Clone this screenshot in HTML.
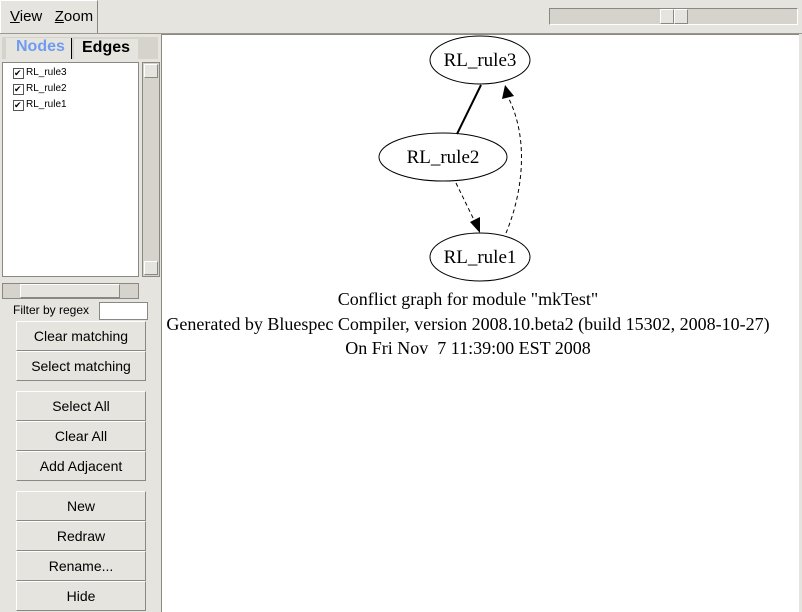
<!DOCTYPE html><html><head><style>
body{margin:0;width:802px;height:612px;background:#e6e4df;position:relative;overflow:hidden;font-family:"Liberation Sans",sans-serif;}
.a{position:absolute;box-sizing:border-box}
.btn{position:absolute;left:16px;width:130px;height:30px;box-sizing:border-box;border:1px solid;border-color:#fff #8a8883 #8a8883 #fff;background:#e6e4df;font-size:14px;text-align:center;line-height:28px;color:#000}
</style></head><body>
<div class="a" style="left:0;top:0;width:98px;height:34px;border:1px solid;border-color:#fff #8a8883 #8a8883 #fff;font-size:15px;line-height:32px;padding-left:9px"><u>V</u>iew&nbsp;&nbsp;&nbsp;<u>Z</u>oom</div>
<div class="a" style="left:0;top:33px;width:802px;height:1px;background:#9a988f"></div>
<div class="a" style="left:549px;top:8px;width:249px;height:17px;background:#d6d3cc;border:1px solid;border-color:#8a8883 #fff #fff #8a8883"></div>
<div class="a" style="left:660px;top:9px;width:14px;height:15px;border:1px solid;border-color:#fff #8a8883 #8a8883 #fff;background:#e6e4df"></div>
<div class="a" style="left:674px;top:9px;width:14px;height:15px;border:1px solid;border-color:#fff #8a8883 #8a8883 #fff;background:#e6e4df"></div>
<div class="a" style="left:161px;top:34px;width:638px;height:578px;background:#fff;border-left:1px solid #8a8883;border-top:1px solid #8a8883"></div>
<div class="a" style="left:2px;top:37px;width:156px;height:22px;background:#d6d3cc"></div>
<div class="a" style="left:6px;top:38px;width:66px;height:21px;background:#e6e4df;border-right:1px solid #000;color:#6f9cf0;font-weight:bold;font-size:16px;padding-left:10px;line-height:18px">Nodes</div>
<div class="a" style="left:74px;top:39px;width:64px;height:20px;background:#e6e4df;font-weight:bold;font-size:16px;padding-left:8px;line-height:18px">Edges</div>
<div class="a" style="left:2px;top:62px;width:137px;height:215px;background:#fff;border:1px solid #8a8883;font-size:10px;line-height:16px;padding:2px 0 0 10px">
<div><span style="display:inline-block;width:9px;height:9px;border:1px solid #555;vertical-align:-1px;font-size:9px;line-height:9px;margin-right:2px">✔</span>RL_rule3</div>
<div><span style="display:inline-block;width:9px;height:9px;border:1px solid #555;vertical-align:-1px;font-size:9px;line-height:9px;margin-right:2px">✔</span>RL_rule2</div>
<div><span style="display:inline-block;width:9px;height:9px;border:1px solid #555;vertical-align:-1px;font-size:9px;line-height:9px;margin-right:2px">✔</span>RL_rule1</div></div>
<div class="a" style="left:142px;top:62px;width:18px;height:215px;background:#d6d3cc;border:1px solid #8a8883"></div>
<div class="a" style="left:144px;top:64px;width:14px;height:14px;border:1px solid;border-color:#fff #8a8883 #8a8883 #fff;background:#e6e4df"></div>
<div class="a" style="left:144px;top:261px;width:14px;height:14px;border:1px solid;border-color:#fff #8a8883 #8a8883 #fff;background:#e6e4df"></div>
<div class="a" style="left:2px;top:283px;width:137px;height:16px;background:#d6d3cc;border:1px solid #8a8883"></div>
<div class="a" style="left:20px;top:284px;width:100px;height:14px;border:1px solid;border-color:#fff #8a8883 #8a8883 #fff;background:#e6e4df"></div>
<div class="a" style="left:13px;top:303px;font-size:12px">Filter by regex</div>
<div class="a" style="left:99px;top:302px;width:49px;height:18px;background:#fff;border:1px solid #8a8883"></div>
<div class="btn" style="top:321px">Clear matching</div>
<div class="btn" style="top:351px">Select matching</div>
<div class="btn" style="top:391px">Select All</div>
<div class="btn" style="top:421px">Clear All</div>
<div class="btn" style="top:451px">Add Adjacent</div>
<div class="btn" style="top:491px">New</div>
<div class="btn" style="top:521px">Redraw</div>
<div class="btn" style="top:551px">Rename...</div>
<div class="btn" style="top:581px">Hide</div>
<svg class="a" style="left:0;top:0" width="802" height="612" font-family="Liberation Serif,serif" font-size="19">
<g fill="none" stroke="#000">
<ellipse cx="480" cy="60" rx="50" ry="24"/>
<ellipse cx="443" cy="157" rx="64" ry="24"/>
<ellipse cx="480" cy="257" rx="50" ry="24"/>
<path d="M457 134 L481 85" stroke-width="2"/>
<path d="M456 183 L475 222" stroke-dasharray="4,3"/>
<path d="M506 233 C522 195 530 140 508 97" stroke-dasharray="4,3"/>
</g>
<polygon points="480,233 470,222 480,217" fill="#000"/>
<polygon points="505,85 502,99 514,96" fill="#000"/>
<g text-anchor="middle" style="white-space:pre">
<text x="480" y="66">RL_rule3</text>
<text x="443" y="163">RL_rule2</text>
<text x="480" y="263">RL_rule1</text>
<text x="468" y="305" font-size="18">Conflict graph for module "mkTest"</text>
<text x="468" y="330" font-size="18">Generated by Bluespec Compiler, version 2008.10.beta2 (build 15302, 2008-10-27)</text>
<text x="468" y="354" font-size="18" xml:space="preserve">On Fri Nov  7 11:39:00 EST 2008</text>
</g></svg>
</body></html>
